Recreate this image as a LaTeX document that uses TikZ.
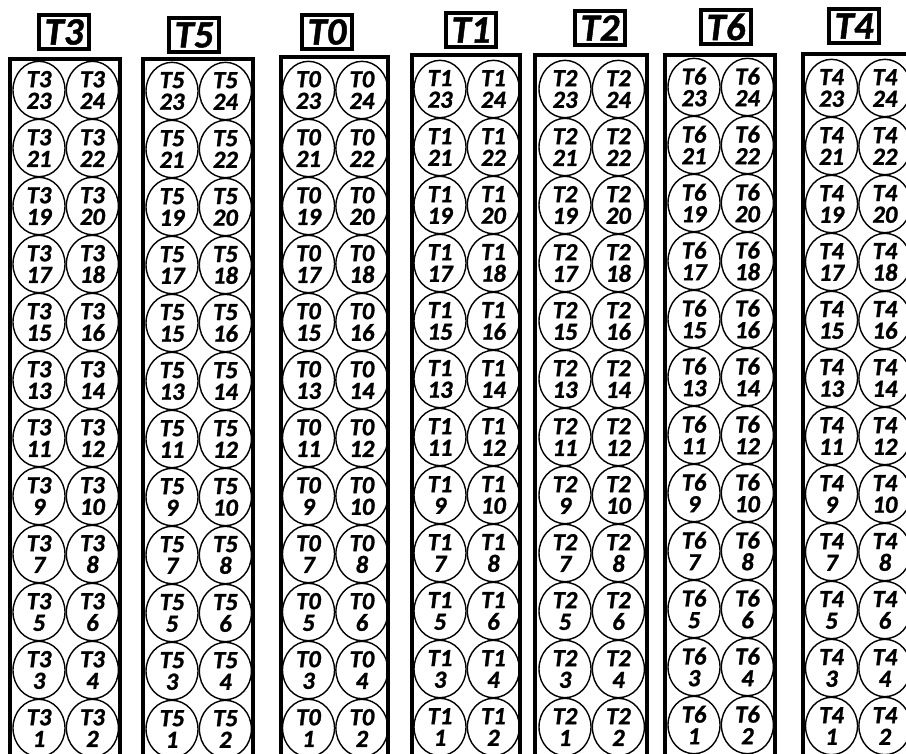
\documentclass[tikz,border=0pt]{standalone}
\usepackage{fontspec}
\setmainfont{Carlito}[BoldItalicFeatures={FakeBold=1.2}]
\usetikzlibrary{positioning, shapes.geometric}

\tikzset{
	cell/.style={ellipse, draw, line width=1.2pt, minimum width=1.56cm, minimum height=1.72cm, inner sep=0pt, align=center, font=\fontsize{21}{18.5}\selectfont\bfseries\itshape},
	tag/.style={draw, line width=3pt, minimum width=1.5cm, minimum height=1.02cm, inner sep=0pt, font=\fontsize{33}{33}\selectfont\bfseries\itshape},
	rack/.style={line width=2.8pt}
}

\begin{document}
\begin{tikzpicture}[x=0.03cm, y=-0.03cm]
	\useasboundingbox (0,0) rectangle (906,753);
	\clip (0,0) rectangle (906,753);
	% Racks: name / left / right / top / tag x / tag y / first row y
	\foreach \t/\xl/\xr/\ytop/\tx/\ty/\fy in {T3/10/120/59/64/32/90, T5/143/253/59/194/35/91, T0/281/388/57/327/32/90, T1/412/520/55/471/30/89, T2/535/647/55/600/28/89, T6/665/775/55/726/27/87, T4/803/912/54/854/26/88}{
		\node[tag] (tag-\t) at (\tx, \ty){\t};
		\draw[rack] (\xl, \ytop) rectangle (\xr, 780);
		% two cells per row, odd one on the left
		\foreach \row in {0,...,11}{
			\pgfmathtruncatemacro{\odd}{23-2*\row}
			\pgfmathtruncatemacro{\even}{24-2*\row}
			\node[cell] (\t-\odd) at ({(\xl+\xr)/2-26}, {\fy+58*\row}){\t\\\odd};
			\node[cell, right=0pt of \t-\odd] (\t-\even){\t\\\even};
		}
	}
\end{tikzpicture}
\end{document}
